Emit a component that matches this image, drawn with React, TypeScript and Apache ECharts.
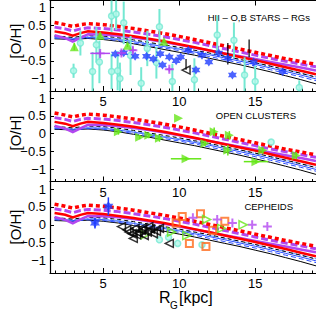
import React, { useEffect, useRef } from 'react';
import * as echarts from 'echarts';

// ---------- model curves (same in every panel) ----------
const modelR = [1.8, 2.5, 3, 3.5, 4, 5, 6, 7, 8, 9, 10, 11, 12, 13, 14, 15, 16, 17, 18, 19];
const redDotted = [0.58, 0.52, 0.47, 0.52, 0.55, 0.52, 0.47, 0.41, 0.34, 0.27, 0.19, 0.1, 0.01, -0.08, -0.17, -0.26, -0.35, -0.44, -0.52, -0.6];
const purpleDashed = [0.45, 0.4, 0.34, 0.4, 0.43, 0.41, 0.37, 0.31, 0.25, 0.18, 0.1, 0.02, -0.07, -0.16, -0.25, -0.34, -0.43, -0.51, -0.59, -0.67];
const redSolid = [0.33, 0.28, 0.21, 0.28, 0.33, 0.3, 0.25, 0.19, 0.12, 0.05, -0.03, -0.12, -0.21, -0.3, -0.39, -0.48, -0.58, -0.68, -0.78, -0.88];
const purpleSolid = [0.22, 0.14, 0.04, 0.15, 0.25, 0.24, 0.21, 0.16, 0.1, 0.03, -0.05, -0.13, -0.21, -0.29, -0.37, -0.45, -0.53, -0.61, -0.69, -0.77];
const blackDashed = [0.2, 0.18, 0.16, 0.19, 0.21, 0.2, 0.15, 0.09, 0.02, -0.05, -0.12, -0.2, -0.28, -0.37, -0.46, -0.55, -0.65, -0.75, -0.85, -0.96];
const lightBlueDashDot = [0.18, 0.16, 0.14, 0.16, 0.18, 0.17, 0.12, 0.06, -0.01, -0.08, -0.15, -0.22, -0.3, -0.38, -0.47, -0.56, -0.65, -0.75, -0.85, -0.95];
const blueSolid = [0.16, 0.14, 0.12, 0.15, 0.16, 0.15, 0.1, 0.04, -0.03, -0.1, -0.17, -0.25, -0.33, -0.42, -0.51, -0.6, -0.7, -0.8, -0.9, -1.01];
const blueDashed = [0.14, 0.12, 0.1, 0.12, 0.14, 0.12, 0.07, 0.0, -0.07, -0.14, -0.21, -0.29, -0.38, -0.47, -0.56, -0.65, -0.75, -0.85, -0.95, -1.06];
const blackSolid = [0.12, 0.11, 0.1, 0.12, 0.13, 0.1, 0.05, -0.02, -0.1, -0.18, -0.26, -0.34, -0.43, -0.52, -0.61, -0.71, -0.81, -0.92, -1.03, -1.15];

// ---------- panel 1: HII regions, O,B stars, RGs ----------
const hiiR = [3.05, 3.5, 4.3, 4.55, 4.75, 5.55, 5.85, 6.35, 5.55, 5.95, 6.1, 6.8, 7.5, 7.9, 8.7, 8.5, 9.55, 11.0, 12.5, 13.6, 14.3, 15.0, 17.9];
const hiiOH = [-0.78, 0.0, -0.8, -0.05, -0.53, 0.76, 0.82, 0.57, -0.8, -0.78, -1.0, -0.35, -1.13, -0.15, 0.46, -0.55, -1.08, -1.03, 0.23, 0.08, -0.9, -1.08, -1.25];
const hiiErr = [0.2, 0.35, 0.55, 0.5, 0.6, 0.45, 0.45, 0.6, 0.5, 0.55, 0.45, 0.55, 0.45, 0.5, 0.5, 0.45, 0.5, 0.6, 0.55, 0.5, 0.5, 0.45, 0.2];

const obR = [5.8, 6.35, 7.1, 7.85, 8.3, 8.9, 8.75, 9.35, 9.8, 10.1, 10.6, 11.1, 11.5, 11.95, 12.6, 13.2, 13.5, 14.9, 16.8];
const obOH = [-0.31, -0.27, -0.37, -0.37, -0.45, -0.62, -0.3, -0.39, -0.5, -0.39, -0.2, -0.76, -0.34, -0.53, -0.28, -0.43, -0.9, -0.53, -0.81];

const rgR = [4.8, 6.2, 6.95, 9.35];
const rgOH = [-0.29, -0.28, -0.2, -0.74];
const rgErrY = [0.06, 0.08, 0.1, 0.06];
const rgErrX = [0.65, 0.3, 0.2, 0.2];

const p1GreenR = [3.1, 4.8, 6.6, 9.0];
const p1GreenOH = [-0.1, 0.22, -0.06, 0.05];
const p1GreenErr = [0.1, 0.05, 0.05, 0.05];

const p1TriR = [10.45];
const p1TriOH = [-0.76];
const p1BarR = [10.45, 13.2, 14.6];
const p1BarOH = [-0.6, -0.3, -0.15];
const p1BarErr = [0.15, 0.3, 0.25];

// ---------- panel 2: open clusters ----------
const ocR = [6.0, 7.4, 8.0, 8.7, 9.96, 10.45, 11.7, 12.3, 13.3, 13.2, 15.05, 15.5, 17.7];
const ocOH = [0.05, -0.1, -0.05, -0.13, 0.43, -0.71, -0.28, 0.05, -0.05, -0.47, -0.79, -0.47, -0.62];
const ocErrY = [0.08, 0.06, 0.08, 0.1, 0, 0.05, 0.08, 0.12, 0.12, 0.15, 0.05, 0.1, 0.1];
const ocErrX = [0, 0, 0, 0, 0, 1.0, 0, 0, 0, 0, 0.8, 0, 0];
const p2CyanR = [16.05];
const p2CyanOH = [-0.24];

// ---------- panel 3: Cepheids ----------
const cepBlackR = [6.2, 6.55, 6.7, 6.98, 7.1, 7.3, 7.5, 7.7, 7.9, 8.1, 8.3, 8.5, 8.7, 7.2, 6.9, 9.35, 8.0, 7.6];
const cepBlackOH = [-0.05, -0.14, -0.2, -0.38, -0.1, -0.22, -0.15, -0.3, -0.2, -0.12, -0.25, -0.18, -0.1, -0.28, -0.25, -0.52, -0.05, -0.08];
const cepBlueR = [5.34, 4.46];
const cepBlueOH = [0.52, 0.05];
const cepBlueErr = [0.25, 0.15];
const cepOrangeR = [10.2, 11.4, 11.76, 10.67, 12.2, 13.0, 9.8];
const cepOrangeOH = [0.23, 0.31, -0.61, -0.52, -0.15, 0.1, 0.05];
const cepMagR = [14.8, 10.9, 12.5, 13.5, 15.8];
const cepMagOH = [0.0, 0.2, 0.15, 0.05, -0.05];
const cepGreenR = [7.75, 14.2, 10.5, 11.8, 12.8, 9.5];
const cepGreenOH = [-0.28, 0.0, -0.3, 0.15, -0.1, -0.2];
const cepCyanR = [9.9, 11.5, 8.7, 9.3];
const cepCyanOH = [-0.52, -0.56, -0.42, -0.35];

// ---------- axes ----------
const xMajor = [5, 10, 15];
const yMajor = [-1, -0.5, 0, 0.5, 1];
const X_MIN = 1.5, X_MAX = 19, Y_MIN = -1.35, Y_MAX = 1.2;
const FONT = '"Liberation Sans", Arial, Helvetica, sans-serif';

const panelLabels = ['HII – O,B STARS – RGs', 'OPEN CLUSTERS', 'CEPHEIDS'];

const CYAN = '#74e8d2';
const CYAN_FILL = '#b4f7ea';
const BLUE = '#1e3cff';
const GREEN = '#66e619';
const PURPLE = '#b347f0';
const RED = '#ff0000';
const ORANGE = '#ff6a1a';

const STAR = 'path://M0,-10 L2.9,-5 L8.66,-5 L5.8,0 L8.66,5 L2.9,5 L0,10 L-2.9,5 L-8.66,5 L-5.8,0 L-8.66,-5 L-2.9,-5 Z';
const PLUS = 'path://M-1,-0.22 L1,-0.22 L1,0.22 L-1,0.22 Z M-0.22,-1 L0.22,-1 L0.22,1 L-0.22,1 Z';

const zip2 = (xs: number[], ys: number[]) => xs.map((x, i) => [x, ys[i]]);
const zipErr = (xs: number[], ys: number[], ey?: number[], ex?: number[]) =>
  xs.map((x, i) => [x, ys[i], ey ? ey[i] : 0, ex ? ex[i] : 0]);

const grids = [
  { left: 50, top: 0.5, width: 266, height: 90.5 },
  { left: 50, top: 91, width: 266, height: 90.5 },
  { left: 50, top: 182, width: 266, height: 91 },
];

function minorVals(): number[] {
  const out: number[] = [];
  for (let k = 0; k <= 32; k++) {
    const v = k * 0.625;
    if (v > X_MIN && v < X_MAX && Math.abs(v / 5 - Math.round(v / 5)) > 1e-6) out.push(v);
  }
  return out;
}

const mainX = (g: number) => g * 2;

function curve(g: number, ys: number[], color: string, width: number, type: any) {
  return {
    type: 'line', xAxisIndex: mainX(g), yAxisIndex: g, data: zip2(modelR, ys),
    showSymbol: false, symbol: 'none', silent: true, z: 2,
    lineStyle: { color, width, type, cap: 'butt', join: 'miter' },
  };
}

function errSeries(g: number, data: number[][], color: string, width: number) {
  return {
    type: 'custom', xAxisIndex: mainX(g), yAxisIndex: g, silent: true, z: 3,
    data, encode: { x: 0, y: 1 },
    renderItem: (params: any, api: any) => {
      const x = api.value(0), y = api.value(1), ey = api.value(2), ex = api.value(3);
      const cy = (v: number) => Math.max(Y_MIN, Math.min(Y_MAX, v));
      const cx = (v: number) => Math.max(X_MIN, Math.min(X_MAX, v));
      const children: any[] = [];
      if (ey > 0) {
        const a = api.coord([x, cy(y - ey)]), b = api.coord([x, cy(y + ey)]);
        children.push({ type: 'line', shape: { x1: a[0], y1: a[1], x2: b[0], y2: b[1] }, style: { stroke: color, lineWidth: width } });
      }
      if (ex > 0) {
        const a = api.coord([cx(x - ex), y]), b = api.coord([cx(x + ex), y]);
        children.push({ type: 'line', shape: { x1: a[0], y1: a[1], x2: b[0], y2: b[1] }, style: { stroke: color, lineWidth: width } });
      }
      return { type: 'group', children };
    },
  };
}

function pts(g: number, data: number[][], symbol: string, size: number, itemStyle: any, rotate = 0) {
  return {
    type: 'scatter', xAxisIndex: mainX(g), yAxisIndex: g, data, symbol, symbolSize: size,
    symbolRotate: rotate, itemStyle, z: 4, silent: true,
  };
}

function buildOption() {
  const minors = minorVals();
  const xAxis: any[] = [];
  const yAxis: any[] = [];
  grids.forEach((_, g) => {
    xAxis.push({
      gridIndex: g, type: 'value', min: X_MIN, max: X_MAX, position: 'bottom',
      axisLine: { show: true, onZero: false, lineStyle: { color: '#000', width: 1.2 } },
      axisTick: { show: true, inside: true, length: 5, customValues: xMajor, lineStyle: { color: '#000', width: 1 } },
      axisLabel: { show: true, customValues: xMajor, color: '#000', fontSize: 13, margin: 4, fontFamily: FONT },
      splitLine: { show: false },
    });
    xAxis.push({
      gridIndex: g, type: 'value', min: X_MIN, max: X_MAX, position: 'bottom',
      axisLine: { show: false, onZero: false },
      axisTick: { show: true, inside: true, length: 2.5, customValues: minors, lineStyle: { color: '#000', width: 1 } },
      axisLabel: { show: false },
      splitLine: { show: false },
    });
    yAxis.push({
      gridIndex: g, type: 'value', min: Y_MIN, max: Y_MAX,
      axisLine: { show: true, onZero: false, lineStyle: { color: '#000', width: 1.2 } },
      axisTick: { show: true, inside: true, length: 4, customValues: yMajor, lineStyle: { color: '#000', width: 1 } },
      axisLabel: {
        show: true, customValues: yMajor, color: '#000', fontSize: 13, margin: 4, fontFamily: FONT,
        formatter: (v: number) => (v < 0 ? '−' : '') + String(Math.abs(v)),
      },
      splitLine: { show: false },
    });
  });
  // top axis of the first panel
  xAxis.push({
    gridIndex: 0, type: 'value', min: X_MIN, max: X_MAX, position: 'top',
    axisLine: { show: true, onZero: false, lineStyle: { color: '#000', width: 1.2 } },
    axisTick: { show: true, inside: true, length: 5, customValues: xMajor, lineStyle: { color: '#000', width: 1 } },
    axisLabel: { show: false }, splitLine: { show: false },
  });

  const series: any[] = [];
  grids.forEach((_, g) => {
    series.push(curve(g, blackSolid, '#000', 1, 'solid'));
    series.push(curve(g, blueDashed, '#2a4dff', 1, [5, 3]));
    series.push(curve(g, blueSolid, '#2a4dff', 1, 'solid'));
    series.push(curve(g, lightBlueDashDot, '#6c9bff', 1.2, [6, 2, 2, 2]));
    series.push(curve(g, blackDashed, '#000', 1, [4, 3]));
    series.push(curve(g, purpleSolid, PURPLE, 2.5, 'solid'));
    series.push(curve(g, redSolid, RED, 2.5, 'solid'));
    series.push(curve(g, purpleDashed, PURPLE, 3, [7, 3]));
    series.push(curve(g, redDotted, RED, 3.5, [4, 3]));
  });

  // panel 1
  series.push(errSeries(0, zipErr(hiiR, hiiOH, hiiErr), CYAN, 2));
  series.push(errSeries(0, zipErr(rgR, rgOH, rgErrY, rgErrX), PURPLE, 1.5));
  series.push(errSeries(0, zipErr(p1GreenR, p1GreenOH, p1GreenErr), GREEN, 1.5));
  series.push(errSeries(0, zipErr(p1BarR, p1BarOH, p1BarErr), '#000', 1.2));
  series.push(pts(0, zip2(hiiR, hiiOH), 'circle', 6, { color: CYAN_FILL, borderColor: CYAN, borderWidth: 1.5 }));
  series.push(pts(0, zip2(obR, obOH), STAR, 9, { color: BLUE }));
  series.push(pts(0, zip2(rgR, rgOH), PLUS, 9, { color: PURPLE }));
  series.push(pts(0, zip2(p1GreenR, p1GreenOH), 'triangle', 9, { color: GREEN }));
  series.push(pts(0, zip2(p1TriR, p1TriOH), 'triangle', 8, { color: 'rgba(0,0,0,0)', borderColor: '#000', borderWidth: 1.5 }, 90));

  // panel 2
  series.push(errSeries(1, zipErr(ocR, ocOH, ocErrY, ocErrX), GREEN, 1.5));
  series.push(pts(1, zip2(ocR, ocOH), 'triangle', 9, { color: GREEN }, -90));
  series.push(pts(1, zip2(p2CyanR, p2CyanOH), 'circle', 6, { color: CYAN_FILL, borderColor: CYAN, borderWidth: 1.5 }));

  // panel 3
  series.push(errSeries(2, zipErr(cepBlueR, cepBlueOH, cepBlueErr, [0.1, 0.1]), BLUE, 1.5));
  series.push(pts(2, zip2(cepCyanR, cepCyanOH), 'circle', 6, { color: CYAN_FILL, borderColor: CYAN, borderWidth: 1.5 }));
  series.push(pts(2, zip2(cepOrangeR, cepOrangeOH), 'rect', 7, { color: 'rgba(0,0,0,0)', borderColor: ORANGE, borderWidth: 2 }));
  series.push(pts(2, zip2(cepMagR, cepMagOH), PLUS, 9, { color: PURPLE }));
  series.push(pts(2, zip2(cepGreenR, cepGreenOH), 'triangle', 8, { color: 'rgba(0,0,0,0)', borderColor: GREEN, borderWidth: 1.5 }, -90));
  series.push(pts(2, zip2(cepBlackR, cepBlackOH), 'triangle', 8, { color: 'rgba(0,0,0,0)', borderColor: '#000', borderWidth: 1.5 }, 90));
  series.push(pts(2, zip2(cepBlueR, cepBlueOH), STAR, 10, { color: BLUE }));

  const graphic: any[] = [];
  const titleCenters = [41, 133, 227];
  titleCenters.forEach((cy) => {
    graphic.push({
      type: 'text', x: 15, y: cy, rotation: Math.PI / 2,
      style: { text: '[O/H]', fontSize: 15, fontFamily: FONT, fill: '#000', align: 'center', verticalAlign: 'middle' },
    });
  });
  const labelPos = [[310, 17], [296, 115], [293, 206]];
  panelLabels.forEach((t, i) => {
    graphic.push({
      type: 'text', x: labelPos[i][0], y: labelPos[i][1],
      style: { text: t, fontSize: 9.5, fontFamily: FONT, fill: '#000', align: 'right', verticalAlign: 'middle' },
    });
  });
  graphic.push({ type: 'text', x: 159, y: 297, style: { text: 'R', fontSize: 16, fontFamily: FONT, fill: '#000', align: 'left', verticalAlign: 'middle' } });
  graphic.push({ type: 'text', x: 170, y: 305, style: { text: 'G', fontSize: 10, fontFamily: FONT, fill: '#000', align: 'left', verticalAlign: 'middle' } });
  graphic.push({ type: 'text', x: 179, y: 297, style: { text: '[kpc]', fontSize: 16, fontFamily: FONT, fill: '#000', align: 'left', verticalAlign: 'middle' } });

  return {
    animation: false,
    backgroundColor: '#fff',
    grid: grids,
    xAxis, yAxis, series, graphic,
  };
}

export default function App() {
  const ref = useRef<HTMLDivElement>(null);
  useEffect(() => {
    const chart = echarts.init(ref.current as HTMLDivElement, null, { renderer: 'svg' });
    chart.setOption(buildOption() as any);
    return () => chart.dispose();
  }, []);
  return <div ref={ref} style={{ position: 'absolute', left: 0, top: 0, width: 316, height: 327, background: '#fff' }} />;
}
